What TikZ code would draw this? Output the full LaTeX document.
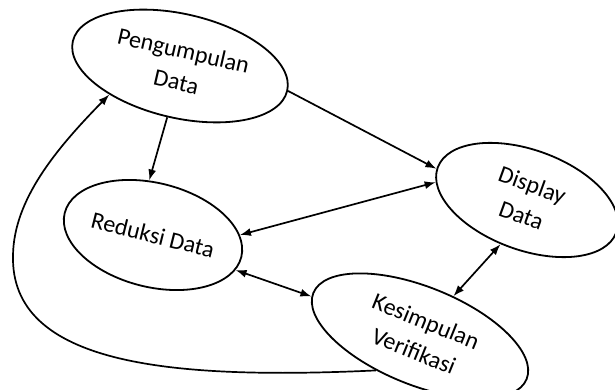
\documentclass[tikz,border=0pt]{standalone}
\usepackage{fontspec}
\setmainfont{Carlito}
\usetikzlibrary{shapes.geometric,arrows.meta}
\begin{document}
\begin{tikzpicture}[x=1pt,y=-1pt,
  proc/.style={draw,ellipse,line width=1.8pt,inner sep=0pt,align=center,font=\fontsize{24}{32}\selectfont},
  conn/.style={line width=1.7pt,-{Latex[length=11pt,width=8pt]}},
  dconn/.style={line width=1.7pt,{Latex[length=11pt,width=8pt]}-{Latex[length=11pt,width=8pt]}}]
\useasboundingbox (0,0) rectangle (615,390);
\node[proc,minimum width=220pt,minimum height=104pt,rotate=-13] (P) at (180,66) {Pengumpulan\\Data};
\node[proc,minimum width=182pt,minimum height=104pt,rotate=-14] (R) at (153,235) {Reduksi Data};
\node[proc,minimum width=190pt,minimum height=100pt,rotate=-20] (D) at (527,200) {Display\\Data};
\node[proc,minimum width=230pt,minimum height=98pt,rotate=-22] (K) at (420,336) {Kesimpulan\\Verifikasi};
\draw[conn] (P.269) -- (R.108);
\draw[conn] (P.0) -- (D.181);
\draw[dconn] (R.14) -- (D.189);
\draw[dconn] (R.351) -- (K.182);
\draw[dconn] (K.72) -- (D.259);
\draw[conn] (K.240) .. controls (170,380) and (10,365) .. (13,255)
  .. controls (14,200) and (55,150) .. (P.215);
\end{tikzpicture}
\end{document}
